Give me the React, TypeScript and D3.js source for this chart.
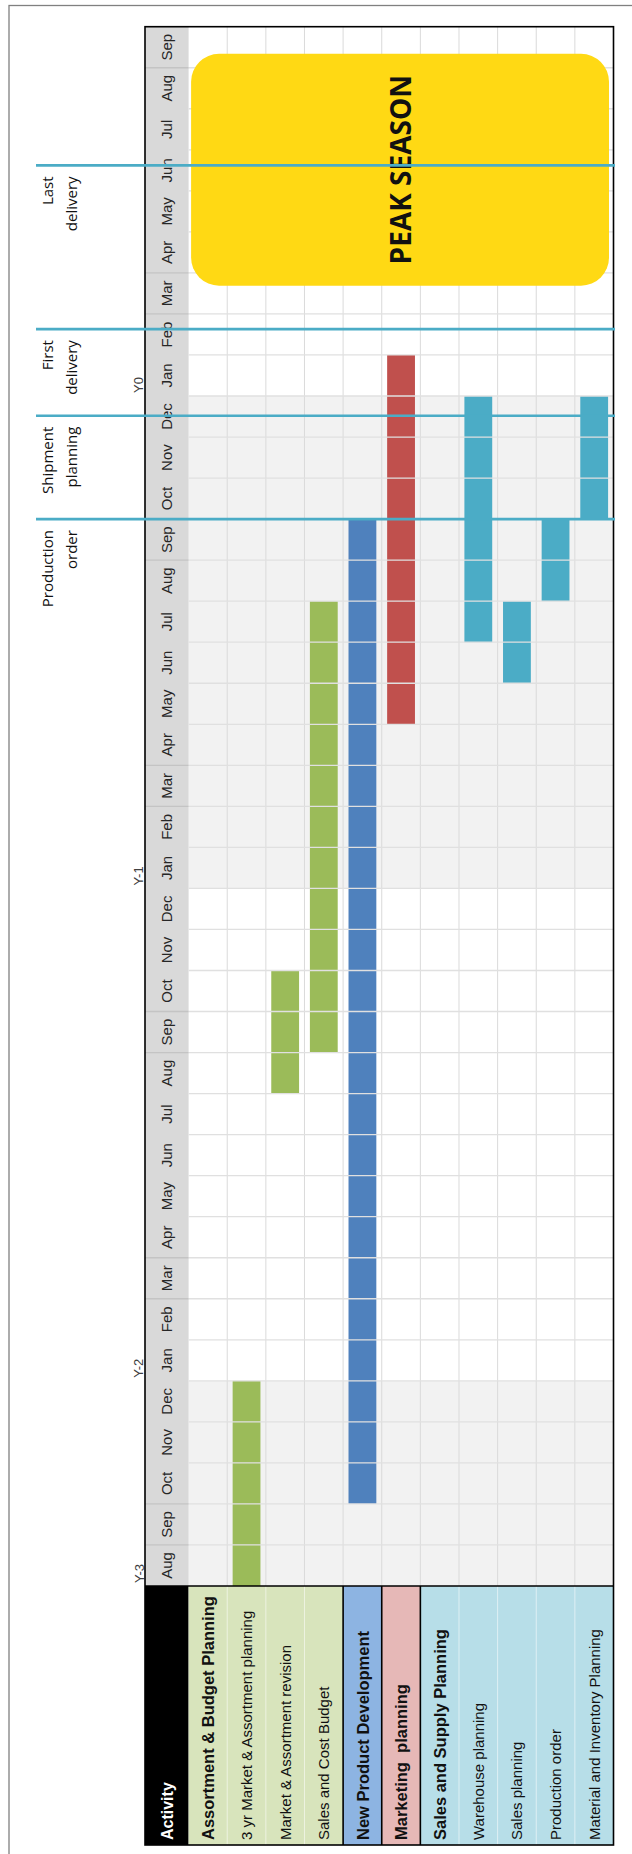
import React from 'react';
import * as d3 from 'd3';

// ---- data ----
const monthLabels = ['Aug','Sep','Oct','Nov','Dec','Jan','Feb','Mar','Apr','May','Jun','Jul','Aug','Sep','Oct','Nov','Dec','Jan','Feb','Mar','Apr','May','Jun','Jul','Aug','Sep','Oct','Nov','Dec','Jan','Feb','Mar','Apr','May','Jun','Jul','Aug','Sep'];
const yearLabels = ['Y-3', 'Y-2', 'Y-1', 'Y0'];
const yearStartMonth = [0, 5, 17, 29];
const yearShaded = [true, false, true, false];

const activityNames = [
  'Assortment & Budget Planning',
  '3 yr Market & Assortment planning',
  'Market & Assortment revision',
  'Sales and Cost Budget',
  'New Product Development',
  'Marketing  planning',
  'Sales and Supply Planning',
  'Warehouse planning',
  'Sales planning',
  'Production order',
  'Material and Inventory Planning',
];
const activityIsHeader = [true, false, false, false, true, true, true, false, false, false, false];
const activityGroup = ['assort','assort','assort','assort','npd','mkt','supply','supply','supply','supply','supply'];
const groupKeys = ['assort', 'npd', 'mkt', 'supply'];
const groupFill = ['#d8e4bc', '#8db4e2', '#e6b8b7', '#b7dee8'];
const groupBar = ['#9bbb59', '#4f81bd', '#c0504d', '#4bacc6'];

const taskActivity = ['3 yr Market & Assortment planning','Market & Assortment revision','Sales and Cost Budget','New Product Development','Marketing  planning','Warehouse planning','Sales planning','Production order','Material and Inventory Planning'];
const taskStart = [0, 12, 13, 2, 21, 23, 22, 24, 26];
const taskEnd = [5, 15, 24, 26, 30, 29, 24, 26, 29];

const milestoneLabels = [['Production', 'order'], ['Shipment', 'planning'], ['First', 'delivery'], ['Last', 'delivery']];
const milestoneAt = [26, 28.52, 30.63, 34.62];

const peakLabel = 'PEAK SEASON';
const peakFrom = 31.69;
const peakTo = 37.34;

// ---- layout ----
const W = 632, H = 1854;
const frameL = 145, frameR = 613.5, frameT = 26.7, timeBottom = 1586, frameB = 1845;
const monthColR = 188.6;
const ARIAL = '"Liberation Sans", Arial, sans-serif';
const OPEN = '"Open Sans", sans-serif';

export default function App() {
  const y = d3.scaleLinear().domain([0, monthLabels.length]).range([timeBottom, frameT]);
  const x = d3.scaleBand<string>().domain(activityNames).range([monthColR, frameR]);
  const bw = x.bandwidth();
  const barW = bw * 0.72;
  const yearOf = (i: number) => d3.bisectRight(yearStartMonth, i) - 1;
  const gIdx = (a: string) => groupKeys.indexOf(activityGroup[activityNames.indexOf(a)]);

  // group spans
  const groupSpans = groupKeys.map((g, gi) => {
    const members = activityNames.filter((_, i) => activityGroup[i] === g);
    const x0 = x(members[0])!;
    const x1 = x(members[members.length - 1])! + bw;
    return { g, gi, x0, x1 };
  });

  return (
    <svg width={W} height={H} style={{ position: 'absolute', left: 0, top: 0, background: '#fff' }}>
      <defs>
        <filter id="shadow" x="-5%" y="-300%" width="110%" height="700%">
          <feGaussianBlur stdDeviation="1.2" />
        </filter>
        <clipPath id="gridClip">
          <rect x={monthColR} y={frameT} width={frameR - monthColR} height={timeBottom - frameT} />
        </clipPath>
      </defs>
      {/* outer frame */}
      <rect x={9} y={5.5} width={700} height={1900} fill="none" stroke="#808080" strokeWidth={1.3} />

      {/* month row backgrounds */}
      {monthLabels.map((m, i) => (
        <rect key={'bg' + i} x={monthColR} y={y(i + 1)} width={frameR - monthColR} height={y(i) - y(i + 1)}
          fill={yearShaded[yearOf(i)] ? '#f2f2f2' : '#ffffff'} />
      ))}
      {/* month column */}
      <rect x={frameL} y={frameT} width={monthColR - frameL} height={timeBottom - frameT} fill="#d9d9d9" />

      {/* vertical grid lines */}
      {activityNames.slice(1).map((a) => (
        <line key={'vg' + a} x1={x(a)} x2={x(a)} y1={frameT} y2={timeBottom} stroke="#dadada" strokeWidth={1} />
      ))}

      {/* bars */}
      {taskActivity.map((a, i) => (
        <rect key={'bar' + i} x={x(a)! + (bw - barW) / 2} y={y(taskEnd[i])} width={barW}
          height={y(taskStart[i]) - y(taskEnd[i])} fill={groupBar[gIdx(a)]} />
      ))}

      {/* horizontal grid lines */}
      {monthLabels.slice(1).map((_, k) => (
        <line key={'hg' + k} x1={monthColR} x2={frameR} y1={y(k + 1)} y2={y(k + 1)} stroke="#e0e0e0" strokeWidth={1.3} />
      ))}
      {/* month column separators around Mar and Sep */}
      {monthLabels.map((m, i) => (m === 'Mar' || m === 'Sep') ? (
        <g key={'ms' + i}>
          <line x1={frameL} x2={monthColR} y1={y(i)} y2={y(i)} stroke="#c4c4c4" strokeWidth={1.3} />
          <line x1={frameL} x2={monthColR} y1={y(i + 1)} y2={y(i + 1)} stroke="#c4c4c4" strokeWidth={1.3} />
        </g>
      ) : null)}

      {/* month labels */}
      {monthLabels.map((m, i) => {
        const cy = (y(i) + y(i + 1)) / 2;
        return (
          <text key={'ml' + i} x={172.5} y={cy} transform={`rotate(-90, 172.5, ${cy})`} textAnchor="middle"
            fontFamily={ARIAL} fontSize={15} fill="#262626">{m}</text>
        );
      })}
      {/* year labels */}
      {yearLabels.map((yl, i) => {
        const yy = y(yearStartMonth[i]) - 3;
        return (
          <text key={'yl' + i} x={143.5} y={yy} transform={`rotate(-90, 143.5, ${yy})`} textAnchor="start"
            fontFamily={ARIAL} fontSize={13} fill="#404040">{yl}</text>
        );
      })}

      {/* peak season */}
      <rect x={monthColR + 2.5} y={y(peakTo)} width={frameR - monthColR - 7} height={y(peakFrom) - y(peakTo)}
        rx={28} ry={28} fill="#ffd914" />
      {(() => {
        const cx = 401, cy = (y(peakTo) + y(peakFrom)) / 2;
        return (
          <text x={cx} y={cy} dy="0.35em" transform={`rotate(-90, ${cx}, ${cy})`} textAnchor="middle"
            fontFamily={OPEN} fontWeight={700} fontSize={28} fill="#111">{peakLabel}</text>
        );
      })()}

      {/* activity area */}
      <rect x={frameL} y={timeBottom} width={monthColR - frameL} height={frameB - timeBottom} fill="#000" />
      {groupSpans.map((s) => (
        <rect key={'gf' + s.g} x={s.x0} y={timeBottom} width={s.x1 - s.x0} height={frameB - timeBottom} fill={groupFill[s.gi]} />
      ))}
      {activityNames.map((a, i) => (i > 0 && activityGroup[i] === activityGroup[i - 1]) ? (
        <line key={'ag' + i} x1={x(a)} x2={x(a)} y1={timeBottom} y2={frameB} stroke="#ffffff" strokeOpacity={0.55} strokeWidth={1} />
      ) : null)}
      {groupSpans.slice(1).map((s) => (
        <line key={'gs' + s.g} x1={s.x0} x2={s.x0} y1={timeBottom} y2={frameB} stroke="#000" strokeWidth={1.6} />
      ))}
      <line x1={frameL} x2={frameR} y1={timeBottom} y2={timeBottom} stroke="#000" strokeWidth={1.6} />
      {(() => {
        const cx = (frameL + monthColR) / 2;
        const yy = 1840;
        return (
          <text x={cx} y={yy} dy="0.36em" transform={`rotate(-90, ${cx}, ${yy})`} fontFamily={ARIAL}
            fontWeight={700} fontSize={16} fill="#fff">Activity</text>
        );
      })()}
      {activityNames.map((a, i) => {
        const cx = x(a)! + bw / 2;
        const yy = 1840;
        return (
          <text key={'at' + i} x={cx} y={yy} dy="0.37em" transform={`rotate(-90, ${cx}, ${yy})`}
            fontFamily={ARIAL} fontWeight={activityIsHeader[i] ? 700 : 400}
            fontSize={activityIsHeader[i] ? 16.5 : 15} fill="#111" style={{ whiteSpace: 'pre' }}>{a}</text>
        );
      })}

      {/* chart frame */}
      <rect x={frameL} y={frameT} width={frameR - frameL} height={frameB - frameT} fill="none" stroke="#000" strokeWidth={1.6} />

      {/* milestones */}
      {milestoneAt.map((t, i) => {
        const yy = y(t);
        return (
          <g key={'mi' + i}>
            <line x1={36} x2={615} y1={yy - 1.8} y2={yy - 1.8} stroke="#333" strokeOpacity={0.45} strokeWidth={2.5} filter="url(#shadow)" />
            <line x1={36} x2={615} y1={yy} y2={yy} stroke="#4bacc6" strokeWidth={2.6} />
            {milestoneLabels[i].map((ln, j) => {
              const bx = 53.5 + j * 23.5;
              const ty = yy + 11;
              return (
                <text key={j} x={bx} y={ty} transform={`rotate(-90, ${bx}, ${ty})`} textAnchor="end"
                  fontFamily={OPEN} fontSize={15} fill="#111">{ln}</text>
              );
            })}
          </g>
        );
      })}
    </svg>
  );
}
